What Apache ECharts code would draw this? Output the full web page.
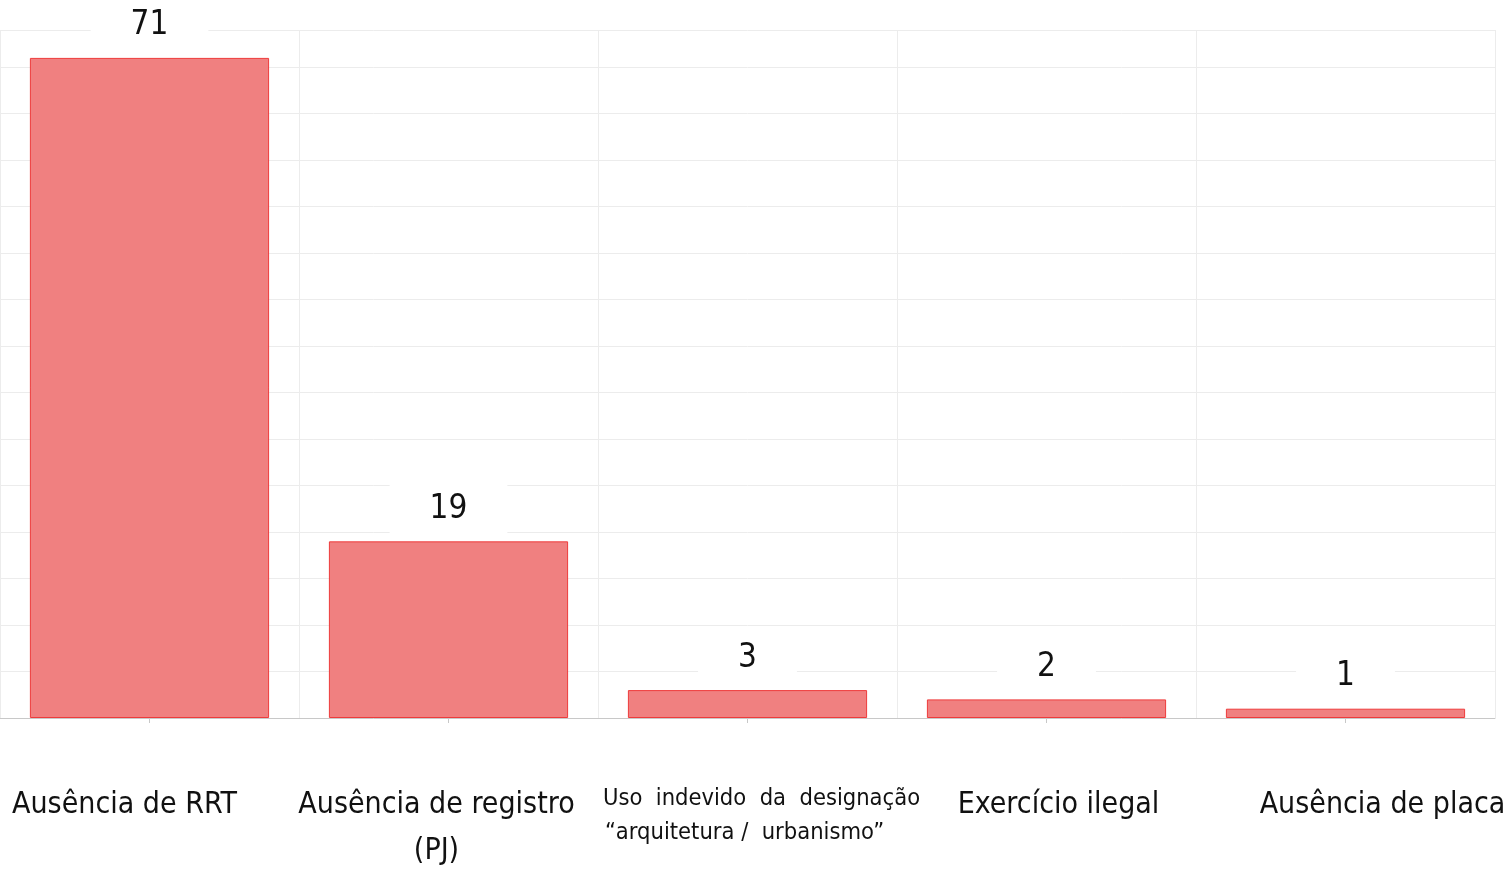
<!DOCTYPE html>
<html>
<head>
<meta charset="utf-8">
<script src="https://cdn.jsdelivr.net/npm/echarts@6/dist/echarts.min.js"></script>
<style>
html,body{margin:0;padding:0;background:#fff;}
#chart{width:1509px;height:872px;}
</style>
</head>
<body>
<div id="chart"></div>
<script>
var categories = [
  'Ausência de RRT',
  'Ausência de registro\n(PJ)',
  'Uso  indevido  da  designação\n“arquitetura /  urbanismo”',
  'Exercício ilegal',
  'Ausência de placa'
];
var values = [71, 19, 3, 2, 1];
var yMin = 0, yMax = 74, yInterval = 5;

var FONT = '"DejaVu Sans Condensed", "Liberation Sans Narrow", "Noto Sans", sans-serif';
var labelStyleNames = [['c1'], ['c2', 'c2'], ['c3', 'c3b'], ['c4'], ['c5']];

var chart = echarts.init(document.getElementById('chart'));
chart.setOption({
  backgroundColor: '#ffffff',
  animation: false,
  grid: {left: 0, right: 14, top: 30, bottom: 154, containLabel: false, outerBoundsMode: 'none'},
  xAxis: {
    type: 'category',
    data: categories,
    axisLine: {show: true, lineStyle: {color: '#c8c8c8', width: 1}},
    axisTick: {show: true, alignWithLabel: true, length: 5, lineStyle: {color: '#c8c8c8'}},
    splitLine: {show: true, lineStyle: {color: '#ececec', width: 1}},
    axisLabel: {
      interval: 0,
      margin: 64,
      hideOverlap: false,
      formatter: function (v, i) {
        var s = labelStyleNames[i];
        return v.split('\n').map(function (line, k) { return '{' + s[k] + '|' + line + '}'; }).join('\n');
      },
      rich: {
        c1: {fontFamily: FONT, fontSize: 30, lineHeight: 46, color: '#111', padding: [0, 50, 0, 0]},
        c2: {fontFamily: FONT, fontSize: 30, lineHeight: 46, color: '#111', padding: [0, 24, 0, 0]},
        c3: {fontFamily: FONT, fontSize: 23.5, lineHeight: 34, color: '#111', padding: [0, 0, 0, 28]},
        c3b: {fontFamily: FONT, fontSize: 23.5, lineHeight: 34, color: '#111', padding: [0, 6, 0, 0]},
        c4: {fontFamily: FONT, fontSize: 30, lineHeight: 46, color: '#111', padding: [0, 0, 0, 24]},
        c5: {fontFamily: FONT, fontSize: 30, lineHeight: 46, color: '#111', padding: [0, 0, 0, 74]}
      }
    }
  },
  yAxis: {
    type: 'value',
    min: yMin,
    max: yMax,
    interval: yInterval,
    axisLabel: {show: false},
    axisLine: {show: false},
    axisTick: {show: false},
    splitLine: {show: true, lineStyle: {color: '#ececec', width: 1}}
  },
  series: [{
    type: 'bar',
    data: values,
    barCategoryGap: '20%',
    itemStyle: {color: '#f08080', borderColor: '#ee3b3b', borderWidth: 1},
    label: {
      show: true,
      position: 'top',
      distance: 5,
      fontFamily: FONT,
      fontSize: 33,
      lineHeight: 36,
      color: '#111',
      backgroundColor: '#ffffff',
      padding: [9, 40]
    }
  }]
});
</script>
</body>
</html>
